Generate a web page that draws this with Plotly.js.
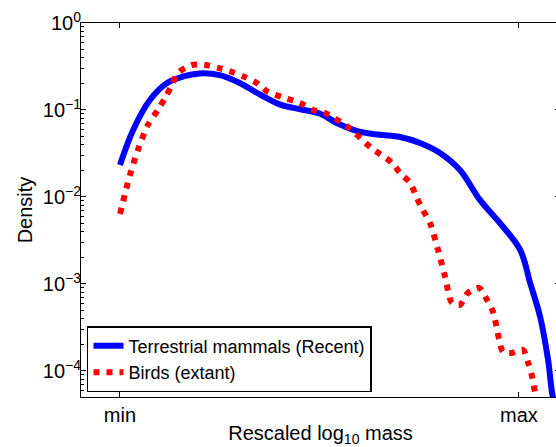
<!DOCTYPE html>
<html>
<head>
<meta charset="utf-8">
<script src="https://cdn.plot.ly/plotly-3.0.1.min.js"></script>
<style>
html,body{margin:0;padding:0;overflow:hidden;background:#fff;}
#chart{width:560px;height:447px;}
</style>
</head>
<body>
<div id="chart"></div>
<script>
// Rescaled log10 mass (0 = min, 1 = max) and log10 density values
var mammalX = [0, 0.033, 0.075, 0.118, 0.158, 0.2, 0.25, 0.30, 0.35, 0.40, 0.45, 0.50, 0.55, 0.60, 0.65, 0.702, 0.752, 0.802, 0.852, 0.902, 0.952, 1.003, 1.028, 1.053, 1.073, 1.085, 1.098];
var mammalLogY = [-1.632, -1.230, -0.885, -0.690, -0.615, -0.580, -0.600, -0.690, -0.820, -0.935, -0.990, -1.040, -1.165, -1.250, -1.285, -1.310, -1.379, -1.494, -1.690, -2.034, -2.299, -2.609, -2.989, -3.379, -3.874, -4.299, -4.47];

var birdX = [0, 0.025, 0.045, 0.070, 0.095, 0.113, 0.130, 0.145, 0.180, 0.213, 0.246, 0.281, 0.313, 0.343, 0.371, 0.406, 0.451, 0.484, 0.514, 0.571, 0.627, 0.682, 0.702, 0.727, 0.744, 0.759, 0.777, 0.797, 0.815, 0.832, 0.852, 0.872, 0.900, 0.920, 0.935, 0.950, 0.960, 0.982, 1.010, 1.023, 1.033, 1.043];
var birdLogY = [-2.195, -1.747, -1.460, -1.172, -1.000, -0.862, -0.713, -0.575, -0.483, -0.483, -0.517, -0.563, -0.621, -0.690, -0.793, -0.851, -0.920, -1.000, -1.034, -1.195, -1.425, -1.609, -1.724, -1.839, -2.011, -2.149, -2.299, -2.609, -2.920, -3.218, -3.241, -3.103, -3.046, -3.184, -3.322, -3.632, -3.782, -3.793, -3.759, -3.908, -4.069, -4.33];

var seriesNames = ["Terrestrial mammals (Recent)", "Birds (extant)"];
var xTickVals = [0, 1];
var xTickText = ["min", "max"];
var yDecades = [0, -1, -2, -3, -4];
var yTickText = ["10<sup>0</sup>", "10<sup>−1</sup>", "10<sup>−2</sup>", "10<sup>−3</sup>", "10<sup>−4</sup>"];

function pow10(a){ return a.map(function(v){ return Math.pow(10, v); }); }

var minorVals = [];
for (var d = -5; d < 0; d++) {
  for (var m = 2; m <= 9; m++) minorVals.push(m * Math.pow(10, d));
}

var traces = [
  {x: mammalX, y: pow10(mammalLogY), mode: 'lines', name: seriesNames[0],
   line: {color: '#0000ff', width: 6, shape: 'spline', smoothing: 1}},
  {x: birdX, y: pow10(birdLogY), mode: 'lines', name: seriesNames[1],
   line: {color: '#ff0000', width: 6, dash: '6px,7px', shape: 'spline', smoothing: 0.8}}
];

var fam = 'Liberation Sans, Arial, sans-serif';

var layout = {
  width: 560, height: 447,
  margin: {l: 81, r: 0, t: 23, b: 50},
  paper_bgcolor: '#fff', plot_bgcolor: '#fff',
  showlegend: true,
  font: {family: fam, size: 18, color: '#000'},
  xaxis: {
    range: [-0.0977, 1.1028],
    tickvals: xTickVals, ticktext: xTickText,
    ticks: 'inside', ticklen: 5, tickcolor: '#000', tickwidth: 1,
    showline: true, linecolor: '#000', linewidth: 1, mirror: 'allticks',
    showgrid: false, zeroline: false,
    tickfont: {family: fam, size: 20, color: '#000'},
    title: {text: 'Rescaled log<sub>10</sub> mass', font: {family: fam, size: 20, color: '#000'}, standoff: 2}
  },
  yaxis: {
    type: 'log', range: [-4.3, 0],
    tickvals: pow10(yDecades), ticktext: yTickText,
    ticks: 'inside', ticklen: 5, tickcolor: '#000', tickwidth: 1,
    minor: {tickvals: minorVals, ticks: 'inside', ticklen: 3, tickcolor: '#000', tickwidth: 1, showgrid: false},
    showline: true, linecolor: '#000', linewidth: 1, mirror: 'allticks',
    showgrid: false, zeroline: false,
    ticklabelstandoff: -5,
    tickfont: {family: fam, size: 20, color: '#000'},
    title: {text: 'Density', font: {family: fam, size: 20, color: '#000'}, standoff: 4}
  },
  legend: {
    x: 0.0125, y: 0.013, xanchor: 'left', yanchor: 'bottom',
    bgcolor: '#fff', bordercolor: '#000', borderwidth: 1.5,
    font: {family: fam, size: 18, color: '#000'},
    tracegroupgap: 0, itemwidth: 30
  }
};

Plotly.newPlot('chart', traces, layout, {displayModeBar: false, staticPlot: true});
</script>
</body>
</html>
